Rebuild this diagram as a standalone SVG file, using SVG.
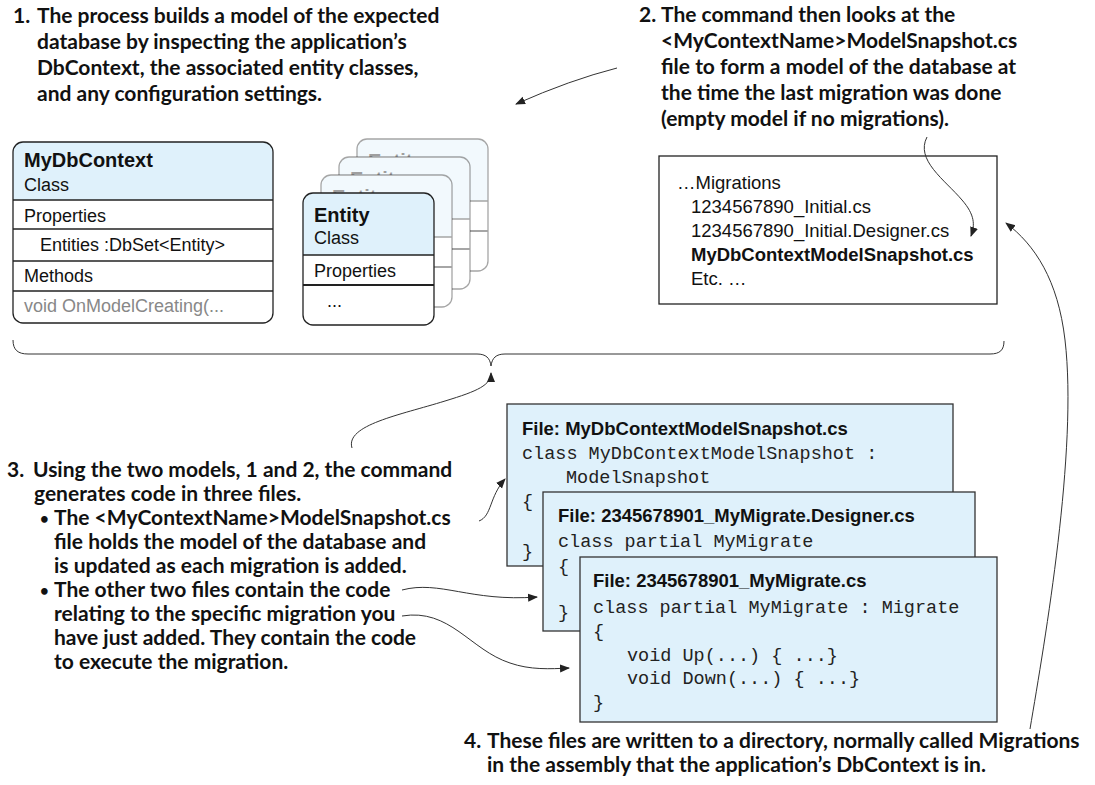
<svg xmlns="http://www.w3.org/2000/svg" width="1095" height="785" viewBox="0 0 1095 785">
<defs>
<marker id="ah" viewBox="0 0 10 10" refX="9" refY="5" markerWidth="10" markerHeight="10" markerUnits="userSpaceOnUse" orient="auto"><path d="M0,1 L10,5 L0,9 Z" fill="#222"/></marker>
<g id="entityShape">
<rect x="0" y="0" width="131" height="132" rx="10" fill="#fff"/>
<path d="M0,62 L0,10 Q0,0 10,0 L121,0 Q131,0 131,10 L131,62 Z" fill="#dff1fb"/>
<line x1="0" y1="62" x2="131" y2="62" stroke="#222" stroke-width="1.3"/>
<line x1="0" y1="92" x2="131" y2="92" stroke="#222" stroke-width="2"/>
<rect x="0" y="0" width="131" height="132" rx="10" fill="none" stroke="#222" stroke-width="1.3"/>
<text x="11" y="29" class="tb" style="font-size:20px">Entity</text>
<text x="11" y="51" class="t">Class</text>
<text x="11" y="84" class="t">Properties</text>
<text x="24" y="114" class="t">...</text>
</g>
</defs>
<style>
.note{font-family:Lato,"Liberation Sans",sans-serif;font-weight:700;font-size:21px;fill:#111}
.bul{font-size:15px}
.t{font-family:"Liberation Sans",Arial,sans-serif;font-size:18px;fill:#111}
.tb{font-family:"Liberation Sans",Arial,sans-serif;font-size:18.5px;font-weight:700;fill:#111}
.m{font-family:"Liberation Sans",Arial,sans-serif;font-size:18.5px;fill:#111}
.code{font-family:"Liberation Mono","Courier New",monospace;font-size:18.5px;fill:#222}
.file{fill:#dff1fb;stroke:#333;stroke-width:1.3}
.conn{fill:none;stroke:#333;stroke-width:1}
</style>
<rect width="1095" height="785" fill="#fff"/>

<g id="note1" class="note">
<text x="13" y="23">1.</text>
<text x="37" y="23">The process builds a model of the expected</text>
<text x="37" y="49">database by inspecting the application’s</text>
<text x="37" y="75">DbContext, the associated entity classes,</text>
<text x="37" y="101">and any configuration settings.</text>
</g>

<g id="note2" class="note">
<text x="639" y="22">2.</text>
<text x="661" y="22">The command then looks at the</text>
<text x="661" y="48">&lt;MyContextName&gt;ModelSnapshot.cs</text>
<text x="661" y="74">file to form a model of the database at</text>
<text x="661" y="100">the time the last migration was done</text>
<text x="661" y="126">(empty model if no migrations).</text>
</g>

<g id="mydbcontext">
<rect x="13" y="142" width="260" height="181" rx="10" fill="#fff"/>
<path d="M13,200 L13,152 Q13,142 23,142 L263,142 Q273,142 273,152 L273,200 Z" fill="#dff1fb"/>
<g stroke="#222" stroke-width="1.6">
<line x1="13" y1="200" x2="273" y2="200"/>
<line x1="13" y1="229" x2="273" y2="229"/>
<line x1="13" y1="261" x2="273" y2="261"/>
<line x1="13" y1="291" x2="273" y2="291"/>
</g>
<rect x="13" y="142" width="260" height="181" rx="10" fill="none" stroke="#222" stroke-width="1.3"/>
<text x="24" y="167" class="tb" style="font-size:20px">MyDbContext</text>
<text x="24" y="191" class="t">Class</text>
<text x="24" y="222" class="t">Properties</text>
<text x="40" y="251" class="t">Entities :DbSet&lt;Entity&gt;</text>
<text x="24" y="282" class="t">Methods</text>
<text x="24" y="312" class="t" style="fill:#888">void OnModelCreating(...</text>
</g>

<g id="entity-stack">
<rect x="357" y="139" width="131" height="132" rx="10" fill="#fff"/>
<use href="#entityShape" transform="translate(357,139)" opacity="0.4"/>
<rect x="339" y="157" width="131" height="132" rx="10" fill="#fff"/>
<use href="#entityShape" transform="translate(339,157)" opacity="0.4"/>
<rect x="321" y="175" width="131" height="132" rx="10" fill="#fff"/>
<use href="#entityShape" transform="translate(321,175)" opacity="0.4"/>
</g>
<g id="entity">
<use href="#entityShape" transform="translate(303,193)"/>
</g>

<g id="migrations-folder">
<rect x="659" y="156" width="338" height="148" fill="#fff" stroke="#222" stroke-width="1.3"/>
<text x="677" y="189" class="m">…Migrations</text>
<text x="691" y="213" class="m">1234567890_Initial.cs</text>
<text x="691" y="237" class="m">1234567890_Initial.Designer.cs</text>
<text x="691" y="261" class="m" font-weight="700">MyDbContextModelSnapshot.cs</text>
<text x="691" y="285" class="m">Etc. …</text>
</g>

<g id="note3" class="note">
<text x="7" y="477">3.</text>
<text x="33" y="477">Using the two models, 1 and 2, the command</text>
<text x="34" y="501">generates code in three files.</text>
<text x="40" y="524" class="bul">•</text>
<text x="54" y="525">The &lt;MyContextName&gt;ModelSnapshot.cs</text>
<text x="54" y="549">file holds the model of the database and</text>
<text x="54" y="573">is updated as each migration is added.</text>
<text x="40" y="596" class="bul">•</text>
<text x="54" y="597">The other two files contain the code</text>
<text x="54" y="621">relating to the specific migration you</text>
<text x="54" y="645">have just added. They contain the code</text>
<text x="54" y="669">to execute the migration.</text>
</g>

<g id="file-snapshot">
<rect x="507" y="404" width="446" height="162" class="file"/>
<text x="522" y="435" class="tb">File: MyDbContextModelSnapshot.cs</text>
<text x="522" y="459" class="code">class MyDbContextModelSnapshot :</text>
<text x="566" y="483" class="code">ModelSnapshot</text>
<text x="522" y="507" class="code">{</text>
<text x="522" y="557" class="code">}</text>
</g>

<g id="file-designer">
<rect x="543" y="492" width="432" height="139" class="file"/>
<text x="558" y="522" class="tb">File: 2345678901_MyMigrate.Designer.cs</text>
<text x="558" y="547" class="code">class partial MyMigrate</text>
<text x="558" y="572" class="code">{</text>
<text x="558" y="618" class="code">}</text>
</g>

<g id="file-migrate">
<rect x="580" y="557" width="417" height="165" class="file"/>
<text x="593" y="587" class="tb">File: 2345678901_MyMigrate.cs</text>
<text x="593" y="613" class="code">class partial MyMigrate : Migrate</text>
<text x="593" y="637" class="code">{</text>
<text x="627" y="661" class="code">void Up(...) { ...}</text>
<text x="627" y="684" class="code">void Down(...) { ...}</text>
<text x="593" y="708" class="code">}</text>
</g>

<g id="note4" class="note">
<text x="464" y="748">4.</text>
<text x="487" y="748">These files are written to a directory, normally called Migrations</text>
<text x="487" y="772">in the assembly that the application’s DbContext is in.</text>
</g>

<g id="connectors" class="conn">
<path d="M617,68 Q570,80 516,104" marker-end="url(#ah)"/>
<path d="M927,137 C915,160 945,180 962,200 C975,215 975,225 971,236" marker-end="url(#ah)"/>
<path d="M13,340 C13,350 18,354 28,354 L477,354 C486,354 490,358 491,366 C492,358 496,354 505,354 L990,354 C1000,354 1004,350 1004,341"/>
<path d="M352,448 C345,425 400,415 445,401 C478,391 491,385 491,373" marker-end="url(#ah)"/>
<path d="M479,521 C492,516 489,497 505,479" marker-end="url(#ah)"/>
<path d="M402,590 C440,580 470,602 537,597" marker-end="url(#ah)"/>
<path d="M402,616 C450,608 470,650 510,663 C530,670 550,669 569,668" marker-end="url(#ah)"/>
<path d="M1030,729 C1045,640 1078,450 1065,340 C1058,280 1035,245 1006,223" marker-end="url(#ah)"/>
</g>
</svg>
